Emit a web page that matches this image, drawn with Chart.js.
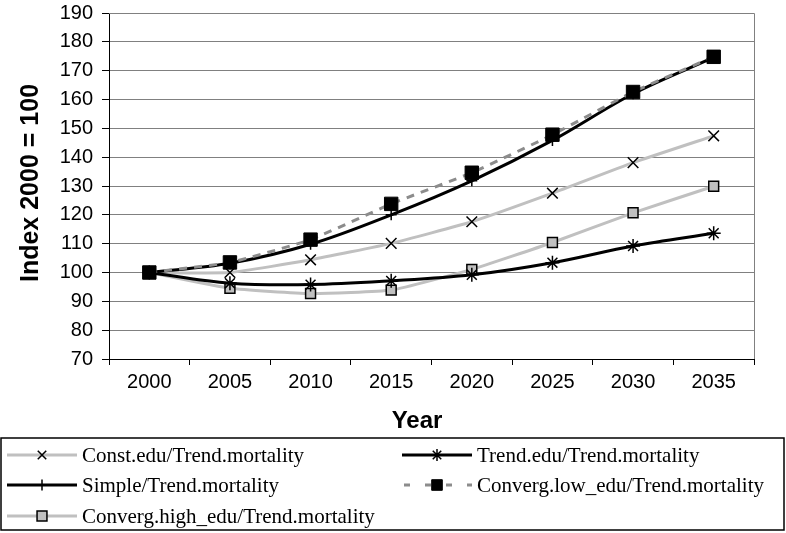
<!DOCTYPE html>
<html>
<head>
<meta charset="utf-8">
<script src="https://cdn.jsdelivr.net/npm/chart.js@4.4.1/dist/chart.umd.min.js"></script>
<style>
html,body{margin:0;padding:0;background:#fff;}
#wrap{width:786px;height:533px;position:relative;}
</style>
</head>
<body>
<div id="wrap"><canvas id="c"></canvas></div>
<script>
const years = ['2000','2005','2010','2015','2020','2025','2030','2035'];
const constEdu = [100, 100, 104.4, 110.1, 117.6, 127.5, 138.1, 147.4];
const trendEdu = [100, 96.3, 95.8, 97.1, 99.2, 103.4, 109.2, 113.6];
const simple   = [100, 103.2, 109.8, 120.0, 131.8, 145.8, 162.0, 174.6];
const convLow  = [100, 103.5, 111.4, 123.8, 134.6, 147.8, 162.6, 174.8];
const convHigh = [100, 94.5, 92.7, 93.9, 101.1, 110.4, 120.7, 129.9];
const yTickMin = 70, yTickMax = 190, yTickStep = 10;
const yTitle = 'Index 2000 = 100';
const xTitle = 'Year';

const LG = '#c0c0c0';
const datasets = [
  {label:'Const.edu/Trend.mortality', data:constEdu, borderColor:LG, borderWidth:3, tension:0.15,
   pointStyle:'crossRot', pointRadius:7.5, pointBorderColor:'#000', pointBackgroundColor:'#000', pointBorderWidth:1.5, order:4},
  {label:'Trend.edu/Trend.mortality', data:trendEdu, borderColor:'#000', borderWidth:3, tension:0.35,
   pointStyle:'star', pointRadius:7, pointBorderColor:'#000', pointBackgroundColor:'#000', pointBorderWidth:1.5, order:2},
  {label:'Simple/Trend.mortality', data:simple, borderColor:'#000', borderWidth:3, tension:0.35,
   pointStyle:'cross', pointRadius:5.5, pointBorderColor:'#000', pointBackgroundColor:'#000', pointBorderWidth:1.5, order:1},
  {label:'Converg.low_edu/Trend.mortality', data:convLow, borderColor:'#8c8c8c', borderWidth:3, borderDash:[8,7], tension:0.15,
   pointStyle:'rect', pointRadius:9.5, pointBorderColor:'#000', pointBackgroundColor:'#000', pointBorderWidth:1, order:0},
  {label:'Converg.high_edu/Trend.mortality', data:convHigh, borderColor:LG, borderWidth:3, tension:0.15,
   pointStyle:'rect', pointRadius:7, pointBorderColor:'#000', pointBackgroundColor:LG, pointBorderWidth:1.5, order:3}
];

const legendLayout = [
  {ds:0, col:0, row:0}, {ds:1, col:1, row:0},
  {ds:2, col:0, row:1}, {ds:3, col:1, row:1},
  {ds:4, col:0, row:2}
];

const decor = {
  id:'decor',
  beforeDatasetsDraw(chart){
    const {ctx, chartArea:a} = chart;
    ctx.save();
    ctx.strokeStyle = '#808080';
    ctx.lineWidth = 1;
    ctx.beginPath();
    ctx.moveTo(a.left, a.top+0.5);
    ctx.lineTo(a.right+0.5, a.top+0.5);
    ctx.lineTo(a.right+0.5, a.bottom);
    ctx.stroke();
    ctx.restore();
  },
  afterDraw(chart){
    const {ctx, chartArea:a} = chart;
    ctx.save();
    ctx.fillStyle = '#000';
    ctx.font = 'bold 25px "Liberation Sans", Arial, sans-serif';
    ctx.textAlign = 'center';
    ctx.textBaseline = 'middle';
    ctx.save();
    ctx.translate(31, (a.top + a.bottom)/2 - 3);
    ctx.rotate(-Math.PI/2);
    ctx.fillText(yTitle, 0, 0);
    ctx.restore();
    ctx.font = 'bold 24px "Liberation Sans", Arial, sans-serif';
    ctx.fillText(xTitle, a.left + 308, a.bottom + 62);
    const bx = 1, by = 438, bw = 783, bh = 92;
    ctx.strokeStyle = '#000';
    ctx.lineWidth = 1.5;
    ctx.strokeRect(bx, by, bw, bh);
    const colX = [7, 402], lineW = 70, rowY = [455, 485, 516];
    ctx.font = '21px "Liberation Serif", "Times New Roman", serif';
    ctx.textAlign = 'left';
    ctx.textBaseline = 'middle';
    for (const it of legendLayout){
      const d = chart.data.datasets[it.ds];
      const x0 = colX[it.col], y = rowY[it.row];
      ctx.save();
      ctx.strokeStyle = d.borderColor;
      ctx.lineWidth = d.borderWidth;
      ctx.setLineDash(d.borderDash ? [6,15] : []);
      ctx.lineDashOffset = d.borderDash ? -2 : 0;
      ctx.beginPath();
      ctx.moveTo(x0, y);
      ctx.lineTo(x0 + lineW, y);
      ctx.stroke();
      ctx.restore();
      ctx.save();
      ctx.strokeStyle = d.pointBorderColor;
      ctx.fillStyle = d.pointBackgroundColor;
      ctx.lineWidth = d.pointBorderWidth;
      const r = d.pointStyle === 'rect' ? Math.min(d.pointRadius, 7.5) : Math.min(d.pointRadius, 6);
      Chart.helpers.drawPoint(ctx, {pointStyle:d.pointStyle, radius:r, rotation:0, borderWidth:d.pointBorderWidth}, x0 + lineW/2, y);
      ctx.restore();
      ctx.fillStyle = '#000';
      ctx.fillText(d.label, x0 + lineW + 5, y + 1);
    }
    ctx.restore();
  }
};

new Chart(document.getElementById('c'), {
  type:'line',
  data:{labels:years, datasets:datasets},
  options:{
    responsive:true, maintainAspectRatio:false, animation:false, devicePixelRatio:1,
    layout:{padding:{top:13, right:32, left:0, bottom:0}},
    plugins:{legend:{display:false}, tooltip:{enabled:false}},
    scales:{
      x:{
        type:'category', offset:true,
        grid:{display:true, drawOnChartArea:false, drawTicks:true, tickLength:6, offset:true, tickColor:'#000', tickWidth:1},
        border:{display:true, color:'#000', width:1},
        ticks:{color:'#000', font:{family:'"Liberation Sans", Arial, sans-serif', size:20}, padding:5, maxRotation:0, autoSkip:false},
        afterFit(s){ s.height = 174; s.paddingLeft = 0; s.paddingRight = 0; }
      },
      y:{
        min:yTickMin, max:yTickMax,
        grid:{color:'#808080', lineWidth:1, tickLength:7, tickColor:'#000', tickWidth:1},
        border:{display:true, color:'#000', width:1},
        ticks:{stepSize:yTickStep, color:'#000', font:{family:'"Liberation Sans", Arial, sans-serif', size:20}, padding:9},
        afterFit(s){ s.width = 109; s.paddingTop = 0; s.paddingBottom = 0; }
      }
    }
  },
  plugins:[decor]
});
</script>
</body>
</html>
